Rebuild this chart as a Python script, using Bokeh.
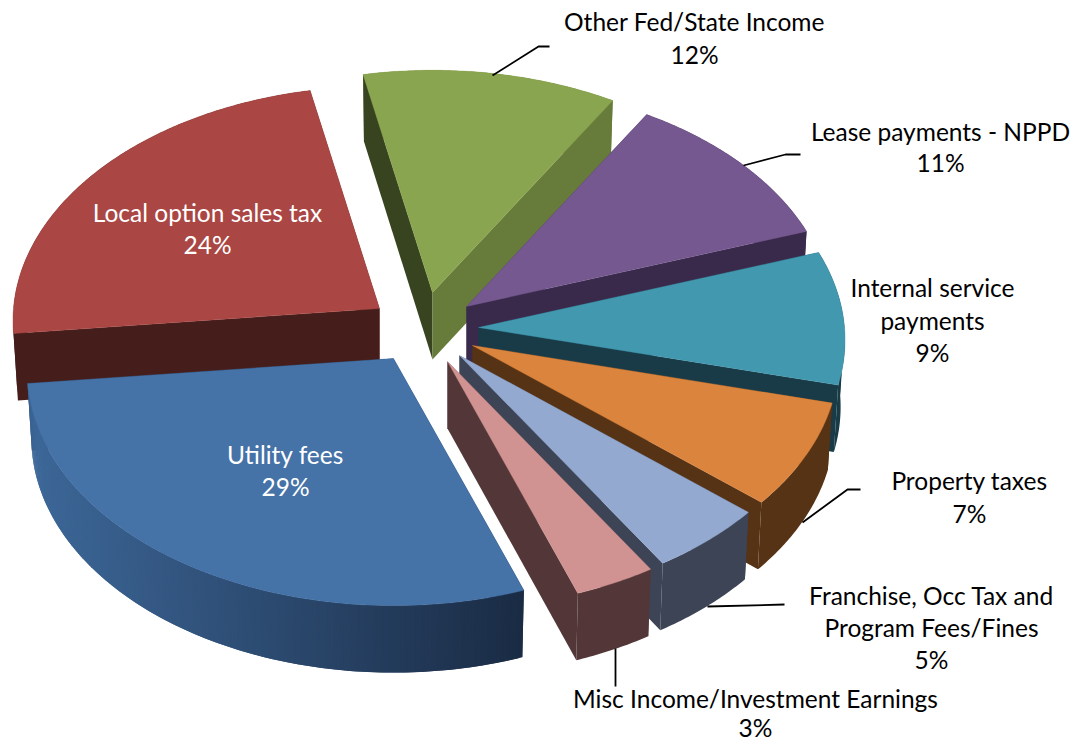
import numpy as np
from bokeh.plotting import figure
from bokeh.embed import file_html
from bokeh.resources import INLINE
from bokeh.core.properties import value

# ---------- data ----------
categories = ["Other Fed/State Income", "Lease payments - NPPD", "Internal service payments",
              "Property taxes", "Franchise, Occ Tax and Program Fees/Fines",
              "Misc Income/Investment Earnings", "Utility fees", "Local option sales tax"]
shares = [11.8, 11.1, 9.2, 7.3, 4.9, 3.4, 28.8, 23.5]
percent_labels = ["12%", "11%", "9%", "7%", "5%", "3%", "29%", "24%"]

# ---------- styling ----------
top_colors = ["#8aa54f", "#75588f", "#4198af", "#db843d", "#93a9cf", "#d19392", "#4572a7", "#aa4744"]
cut_start = ["#384420", "#39294a", "#183b47", "#573315", "#3c4456", "#533738", "#1a2b44", "#451d1a"]
cut_end = ["#677c3a", "#39294a", "#183b47", "#573315", "#3c4456", "#533738", "#1a2b44", "#451d1a"]
rim_a = ["#677c3a", "#39294a", "#183b47", "#573315", "#3c4456", "#533738", "#1a2b44", "#451d1a"]
rim_b = ["#677c3a", "#39294a", "#183b47", "#573315", "#3c4456", "#533738", "#3d6899", "#451d1a"]

# exploded apex of each slice, in page pixels
apex_x = [432, 466, 478, 472, 459, 447, 393, 379]
apex_y = [292, 306, 327, 345, 355, 361, 358, 308]
draw_order = [7, 0, 1, 2, 3, 4, 5, 6]

START = -11.5
RX, RY, K, DEPTH, SHRINK = 366.0, 234.0, 0.053, 67.0, 0.988


def project(t_deg):
    t = np.radians(t_deg)
    u, v = np.sin(t), np.cos(t)
    f = 1 / (1 + K * v)
    return RX * u * f, -RY * v * f


W, H = 1071, 742
p = figure(width=W, height=H, output_backend="svg", toolbar_location=None,
           x_range=(0, W), y_range=(H, 0), min_border=0,
           outline_line_color=None, background_fill_color="white")
p.axis.visible = False
p.grid.visible = False

edges = START + np.concatenate([[0], np.cumsum(shares)]) * 360 / np.sum(shares)


def hexmix(a, b, s):
    ca = np.array([int(a[i:i + 2], 16) for i in (1, 3, 5)])
    cb = np.array([int(b[i:i + 2], 16) for i in (1, 3, 5)])
    c = (ca + (cb - ca) * s).round().astype(int)
    return "#%02x%02x%02x" % tuple(c)


def draw_rim(i, ax, ay, ts):
    if len(ts) < 2:
        return
    dx, dy = project(ts)
    X, Y = ax + dx, ay + dy
    BX, BY = ax + dx * SHRINK, ay + dy + DEPTH
    if rim_a[i] == rim_b[i]:
        p.patch(np.r_[X, BX[::-1]], np.r_[Y, BY[::-1]], fill_color=rim_a[i], line_color=None)
        return
    # colour runs along x; each band overlaps the next so no seam shows
    xmin, xmax = X.min(), X.max()
    n = len(ts)
    for j in range(n - 1):
        k = min(j + 2, n - 1)
        s = (xmax - (X[j] + X[j + 1]) / 2) / max(xmax - xmin, 1)
        col = hexmix(rim_a[i], rim_b[i], s)
        p.patch([X[j], X[k], BX[k], BX[j]], [Y[j], Y[k], BY[k], BY[j]], fill_color=col, line_color=None)


for i in draw_order:
    ax, ay = apex_x[i], apex_y[i]
    ts = np.linspace(edges[i], edges[i + 1], max(int(edges[i + 1] - edges[i]) * 2, 8))
    dx, dy = project(ts)
    X, Y = ax + dx, ay + dy
    BX, BY = ax + dx * SHRINK, ay + dy + DEPTH
    back = np.cos(np.radians(ts)) > 0
    # rear part of the rim lies behind the cut faces
    draw_rim(i, ax, ay, ts[back])
    p.patch([ax, X[0], BX[0], ax], [ay, Y[0], BY[0], ay + DEPTH], fill_color=cut_start[i], line_color=None)
    p.patch([ax, X[-1], BX[-1], ax], [ay, Y[-1], BY[-1], ay + DEPTH], fill_color=cut_end[i], line_color=None)
    draw_rim(i, ax, ay, ts[~back])
    p.patch(np.r_[ax, X], np.r_[ay, Y], fill_color=top_colors[i], line_color=top_colors[i], line_width=0.4)

# ---------- leader lines ----------
leaders = [([492, 538, 549], [75, 46, 46]),
           ([743, 785, 800], [165, 154, 154]),
           ([802, 847, 860], [522, 489, 489]),
           ([707, 784], [606, 604]),
           ([615, 615], [648, 686])]
for lx, ly in leaders:
    p.line(lx, ly, line_color="black", line_width=1.8)

# ---------- texts ----------
text_rows = [
    ("Other Fed/State Income", 694, 21, "black"), (percent_labels[0], 694, 54, "black"),
    ("Lease payments - NPPD", 940, 131, "black"), (percent_labels[1], 940, 162, "black"),
    ("Internal service", 932, 287, "black"), ("payments", 932, 320, "black"), (percent_labels[2], 932, 352, "black"),
    ("Property taxes", 969, 480, "black"), (percent_labels[3], 969, 513, "black"),
    ("Franchise, Occ Tax and", 931, 595, "black"), ("Program Fees/Fines", 931, 627, "black"), (percent_labels[4], 931, 659, "black"),
    ("Misc Income/Investment Earnings", 755, 698, "black"), (percent_labels[5], 755, 727, "black"),
    ("Utility fees", 285, 454, "white"), (percent_labels[6], 285, 486, "white"),
    ("Local option sales tax", 207, 212, "white"), (percent_labels[7], 207, 244, "white"),
]
p.text([r[1] for r in text_rows], [r[2] for r in text_rows], text=[r[0] for r in text_rows],
       text_color=[r[3] for r in text_rows], text_font=value("Lato"), text_font_size="24.5px",
       text_align="center", text_baseline="middle")

open("out.html", "w").write(file_html(p, INLINE))
